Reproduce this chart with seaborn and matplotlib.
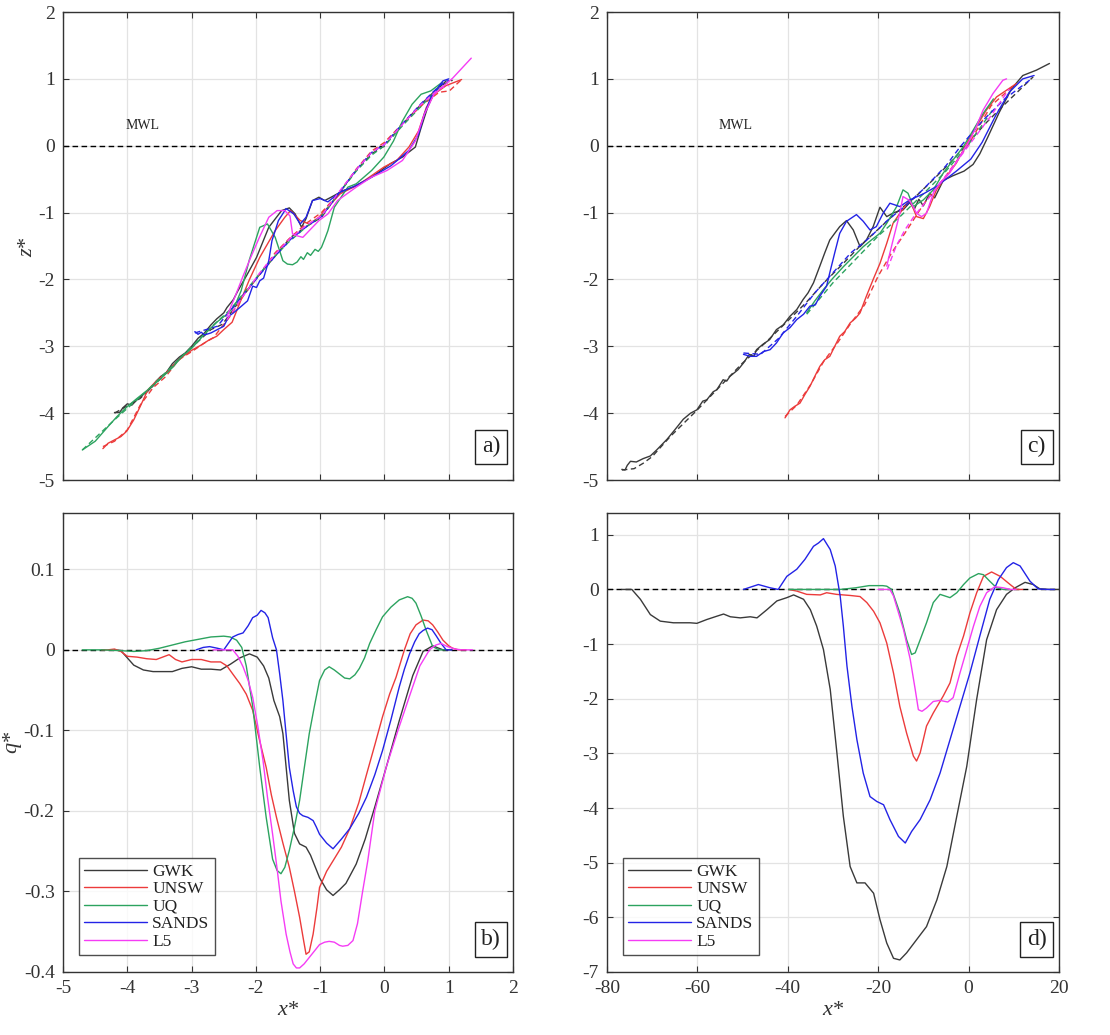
import numpy as np
import pandas as pd
import matplotlib
matplotlib.use("Agg")
import matplotlib.pyplot as plt
from matplotlib.lines import Line2D
import seaborn as sns

# ---------------------------------------------------------------- data
sources = ["GWK", "UNSW", "UQ", "SANDS", "L5"]
palette = {"GWK": "#3a3a3a", "UNSW": "#ec3b3b", "UQ": "#2ca35f",
           "SANDS": "#2323e6", "L5": "#f53cf5"}

# ---- panel a: profiles z*(x*), final (solid) and initial (dashed)
a_gwk_x = [-4.2, -4.12, -4.07, -4.0, -3.93, -3.85, -3.75, -3.65, -3.55, -3.48, -3.4, -3.3, -3.19, -3.1,
           -3.0, -2.9, -2.8, -2.7, -2.61, -2.5, -2.45, -2.35, -2.28, -2.15, -1.99, -1.8, -1.6, -1.48,
           -1.39, -1.29, -1.22, -1.12, -1.02, -0.93, -0.83, -0.64, -0.49, -0.2, 0.09, 0.28, 0.48,
           0.57, 0.67, 0.77, 0.96]
a_gwk_z = [-3.99, -3.99, -3.92, -3.86, -3.88, -3.8, -3.72, -3.64, -3.52, -3.45, -3.4, -3.26, -3.16, -3.1,
           -3.0, -2.88, -2.8, -2.68, -2.59, -2.5, -2.42, -2.3, -2.17, -1.95, -1.67, -1.22, -0.97, -0.93,
           -1.02, -1.22, -1.09, -0.82, -0.77, -0.82, -0.77, -0.67, -0.62, -0.47, -0.27, -0.17, -0.02,
           0.27, 0.57, 0.79, 0.97]
a_gwk0_x = [-4.2, -3.8, -3.5, -3.2, -3.0, -2.7, -2.52, -2.2, -1.94, -1.7, -1.46, -1.2, -0.98, -0.7,
            -0.44, -0.2, 0.0, 0.28, 0.57, 0.86, 1.06]
a_gwk0_z = [-4.0, -3.78, -3.5, -3.2, -3.02, -2.75, -2.67, -2.25, -1.92, -1.65, -1.37, -1.2, -1.07, -0.7,
            -0.37, -0.12, 0.0, 0.32, 0.62, 0.89, 0.98]

a_unsw_x = [-4.38, -4.3, -4.2, -4.1, -4.01, -3.9, -3.8, -3.68, -3.55, -3.4, -3.25, -3.12, -3.0, -2.85,
            -2.72, -2.61, -2.5, -2.37, -2.25, -2.1, -1.94, -1.7, -1.55, -1.46, -1.31, -1.17, -1.02,
            -0.88, -0.69, -0.4, -0.01, 0.19, 0.38, 0.53, 0.65, 0.77, 0.96, 1.2]
a_unsw_z = [-4.53, -4.45, -4.4, -4.35, -4.27, -4.1, -3.9, -3.65, -3.52, -3.4, -3.25, -3.14, -3.06, -2.98,
            -2.9, -2.85, -2.75, -2.64, -2.35, -2.0, -1.67, -1.27, -1.07, -0.97, -1.12, -1.17, -1.07,
            -0.92, -0.72, -0.58, -0.32, -0.22, -0.02, 0.22, 0.57, 0.77, 0.9, 0.99]
a_unsw0_x = [-4.38, -4.2, -4.0, -3.8, -3.6, -3.4, -3.2, -3.0, -2.8, -2.66, -2.4, -2.18, -1.94, -1.7,
             -1.46, -1.2, -0.98, -0.7, -0.44, -0.2, 0.0, 0.3, 0.6, 0.85, 1.01, 1.2]
a_unsw0_z = [-4.5, -4.42, -4.25, -3.88, -3.62, -3.45, -3.2, -3.08, -2.95, -2.87, -2.55, -2.22, -1.92, -1.6,
             -1.37, -1.15, -1.0, -0.7, -0.35, -0.08, 0.05, 0.35, 0.62, 0.8, 0.82, 0.99]

a_uq_x = [-4.7, -4.5, -4.3, -4.16, -4.0, -3.85, -3.68, -3.5, -3.3, -3.15, -3.0, -2.8, -2.61, -2.45,
          -2.33, -2.23, -2.1, -1.94, -1.82, -1.7, -1.58, -1.51, -1.43, -1.36, -1.3, -1.26, -1.2, -1.15,
          -1.08, -1.03, -0.98, -0.93, -0.88, -0.78, -0.57, -0.44, -0.2, -0.01, 0.14, 0.28, 0.43, 0.57,
          0.72, 0.9]
a_uq_z = [-4.55, -4.42, -4.2, -4.05, -3.9, -3.78, -3.65, -3.5, -3.32, -3.15, -3.03, -2.82, -2.64, -2.52,
          -2.4, -2.17, -1.7, -1.22, -1.17, -1.37, -1.72, -1.77, -1.78, -1.74, -1.66, -1.7, -1.6, -1.64,
          -1.55, -1.58, -1.52, -1.4, -1.27, -0.92, -0.62, -0.57, -0.37, -0.17, 0.07, 0.37, 0.62, 0.77,
          0.82, 0.95]
a_uq0_x = [-4.7, -4.2, -3.7, -3.2, -2.7, -2.4, -2.1, -1.8, -1.5, -1.2, -0.98, -0.7, -0.44, -0.2, 0.0,
           0.3, 0.6, 0.9]
a_uq0_z = [-4.55, -4.1, -3.67, -3.2, -2.72, -2.45, -2.1, -1.75, -1.45, -1.2, -1.05, -0.7, -0.38, -0.14,
           0.0, 0.32, 0.62, 0.92]

a_sands_x = [-2.95, -2.9, -2.85, -2.8, -2.7, -2.6, -2.5, -2.42, -2.35, -2.25, -2.13, -2.05, -1.99, -1.94,
             -1.88, -1.8, -1.75, -1.65, -1.53, -1.41, -1.31, -1.22, -1.12, -1.0, -0.88, -0.7, -0.45,
             -0.2, 0.1, 0.38, 0.53, 0.62, 0.72, 0.91, 1.0]
a_sands_z = [-2.78, -2.82, -2.79, -2.83, -2.8, -2.75, -2.7, -2.55, -2.5, -2.42, -2.32, -2.1, -2.12, -2.02,
             -1.98, -1.72, -1.42, -1.12, -0.94, -1.02, -1.17, -1.07, -0.82, -0.79, -0.84, -0.7, -0.6,
             -0.47, -0.3, -0.07, 0.17, 0.47, 0.72, 0.97, 1.0]
a_sands0_x = [-2.95, -2.6, -2.3, -2.0, -1.7, -1.46, -1.2, -0.98, -0.7, -0.44, -0.2, 0.0, 0.28, 0.57,
              0.86, 1.0]
a_sands0_z = [-2.8, -2.7, -2.35, -2.0, -1.65, -1.4, -1.2, -1.06, -0.7, -0.36, -0.1, 0.02, 0.33, 0.63,
              0.9, 0.98]

a_l5_x = [-2.45, -2.33, -2.2, -2.08, -1.95, -1.8, -1.67, -1.55, -1.47, -1.43, -1.35, -1.27, -1.17, -1.02,
          -0.88, -0.73, -0.44, -0.2, 0.04, 0.28, 0.48, 0.62, 0.77, 1.06, 1.35]
a_l5_z = [-2.55, -2.27, -1.95, -1.67, -1.38, -1.07, -0.97, -0.97, -1.05, -1.32, -1.35, -1.37, -1.27, -1.12,
          -1.02, -0.82, -0.62, -0.47, -0.37, -0.22, 0.07, 0.47, 0.77, 1.01, 1.31]
a_l50_x = [-2.45, -2.2, -1.94, -1.7, -1.46, -1.2, -0.98, -0.7, -0.44, -0.2, 0.0, 0.28, 0.57, 0.86, 1.0]
a_l50_z = [-2.6, -2.25, -1.9, -1.62, -1.38, -1.18, -1.05, -0.68, -0.36, -0.1, 0.02, 0.32, 0.62, 0.86, 0.9]

# ---- panel b: q*(x*)
b_gwk_x = [-4.2, -4.1, -4.0, -3.9, -3.75, -3.6, -3.45, -3.3, -3.15, -3.0, -2.85, -2.7, -2.55, -2.4,
           -2.25, -2.1, -1.98, -1.88, -1.8, -1.72, -1.63, -1.58, -1.48, -1.4, -1.32, -1.22, -1.15,
           -1.01, -0.9, -0.8, -0.7, -0.6, -0.5, -0.44, -0.3, -0.15, 0.03, 0.23, 0.44, 0.6, 0.75, 0.91,
           1.05]
b_gwk_q = [0.0, -0.001, -0.01, -0.019, -0.025, -0.027, -0.027, -0.027, -0.023, -0.021, -0.024, -0.024,
           -0.025, -0.018, -0.01, -0.005, -0.009, -0.02, -0.035, -0.063, -0.083, -0.104, -0.187, -0.228,
           -0.241, -0.245, -0.255, -0.283, -0.298, -0.305, -0.298, -0.29, -0.275, -0.266, -0.235, -0.195,
           -0.145, -0.088, -0.032, -0.002, 0.005, 0.0, 0.0]

b_unsw_x = [-4.4, -4.3, -4.2, -4.1, -4.0, -3.85, -3.7, -3.55, -3.45, -3.35, -3.25, -3.15, -3.0, -2.85,
            -2.7, -2.55, -2.45, -2.36, -2.25, -2.15, -2.05, -1.95, -1.84, -1.76, -1.68, -1.58, -1.48,
            -1.4, -1.32, -1.26, -1.22, -1.17, -1.11, -1.05, -1.01, -0.9, -0.8, -0.67, -0.54, -0.4, -0.28,
            -0.15, -0.03, 0.08, 0.18, 0.31, 0.4, 0.49, 0.6, 0.68, 0.75, 0.83, 0.91, 1.0, 1.06, 1.15, 1.27]
b_unsw_q = [0.0, 0.0, 0.001, -0.002, -0.008, -0.009, -0.011, -0.012, -0.009, -0.006, -0.012, -0.015,
            -0.012, -0.012, -0.015, -0.015, -0.02, -0.03, -0.042, -0.055, -0.075, -0.11, -0.146, -0.18,
            -0.208, -0.24, -0.27, -0.3, -0.332, -0.36, -0.378, -0.375, -0.353, -0.32, -0.295, -0.275,
            -0.262, -0.245, -0.222, -0.19, -0.155, -0.118, -0.083, -0.055, -0.034, 0.0, 0.02, 0.031,
            0.037, 0.036, 0.031, 0.022, 0.012, 0.005, 0.002, 0.0, 0.0]

b_uq_x = [-4.7, -4.4, -4.1, -3.9, -3.7, -3.5, -3.3, -3.1, -2.9, -2.7, -2.5, -2.4, -2.3, -2.22, -2.15,
          -2.05, -1.94, -1.84, -1.74, -1.67, -1.61, -1.55, -1.48, -1.4, -1.32, -1.25, -1.17, -1.09,
          -1.01, -0.93, -0.86, -0.78, -0.7, -0.62, -0.54, -0.46, -0.39, -0.31, -0.23, -0.13, -0.03,
          0.1, 0.23, 0.36, 0.43, 0.49, 0.57, 0.65, 0.75, 0.85, 0.95]
b_uq_q = [0.0, 0.0, -0.001, -0.002, -0.001, 0.002, 0.006, 0.01, 0.013, 0.016, 0.017, 0.016, 0.012,
          0.003, -0.02, -0.07, -0.146, -0.208, -0.26, -0.274, -0.278, -0.27, -0.249, -0.22, -0.187,
          -0.148, -0.104, -0.07, -0.038, -0.025, -0.021, -0.025, -0.03, -0.035, -0.036, -0.031, -0.023,
          -0.01, 0.008, 0.025, 0.041, 0.053, 0.062, 0.066, 0.064, 0.058, 0.042, 0.024, 0.004, 0.0, 0.0]

b_sands_x = [-2.93, -2.82, -2.72, -2.6, -2.5, -2.43, -2.36, -2.28, -2.2, -2.12, -2.05, -1.98, -1.92,
             -1.86, -1.81, -1.74, -1.68, -1.63, -1.58, -1.53, -1.48, -1.42, -1.37, -1.32, -1.27, -1.19,
             -1.11, -1.06, -1.01, -0.9, -0.8, -0.67, -0.54, -0.4, -0.28, -0.15, -0.03, 0.1, 0.23, 0.31,
             0.39, 0.47, 0.54, 0.6, 0.67, 0.74, 0.8, 0.88, 0.96, 1.05]
b_sands_q = [0.0, 0.003, 0.004, 0.002, 0.0, 0.008, 0.016, 0.019, 0.021, 0.03, 0.04, 0.043, 0.049, 0.046,
             0.04, 0.015, 0.0, -0.03, -0.063, -0.105, -0.146, -0.175, -0.195, -0.203, -0.206, -0.208,
             -0.212, -0.22, -0.229, -0.24, -0.247, -0.235, -0.222, -0.203, -0.183, -0.155, -0.125,
             -0.087, -0.046, -0.024, -0.005, 0.01, 0.02, 0.024, 0.027, 0.025, 0.018, 0.008, 0.0, 0.0]

b_l5_x = [-2.67, -2.5, -2.36, -2.28, -2.2, -2.12, -2.05, -1.97, -1.89, -1.82, -1.74, -1.67, -1.61, -1.53,
          -1.47, -1.42, -1.37, -1.32, -1.25, -1.17, -1.09, -1.01, -0.93, -0.86, -0.78, -0.7, -0.65,
          -0.57, -0.49, -0.42, -0.34, -0.26, -0.15, 0.03, 0.21, 0.4, 0.55, 0.7, 0.8, 0.88, 0.98, 1.1,
          1.2, 1.37]
b_l5_q = [0.0, 0.0, 0.0, -0.008, -0.021, -0.038, -0.059, -0.095, -0.137, -0.183, -0.229, -0.272, -0.312,
          -0.353, -0.375, -0.39, -0.395, -0.395, -0.39, -0.382, -0.374, -0.366, -0.363, -0.362, -0.363,
          -0.367, -0.368, -0.367, -0.361, -0.34, -0.3, -0.262, -0.2, -0.145, -0.1, -0.055, -0.02, 0.0,
          0.006, 0.008, 0.004, 0.001, 0.0, 0.0]

# ---- panel c: profiles z*(x*)
c_gwk_x = [-76.7, -76.0, -75.5, -74.8, -73.5, -72.0, -70.4, -69.0, -66.7, -65.0, -63.1, -61.5, -60.1,
           -58.8, -57.9, -56.5, -55.7, -54.3, -53.5, -52.8, -51.0, -49.8, -48.5, -47.5, -46.9, -45.5,
           -44.0, -42.5, -41.0, -39.5, -38.0, -36.6, -35.5, -34.3, -32.9, -31.8, -30.7, -29.5, -28.5,
           -27.0, -25.5, -24.0, -22.6, -21.1, -19.6, -18.1, -16.5, -14.5, -13.0, -12.0, -11.0, -10.0,
           -8.6, -7.5, -5.6, -3.5, -1.0, 1.0, 2.5, 4.2, 6.8, 9.5, 12.0, 15.0, 17.9]
c_gwk_z = [-4.84, -4.85, -4.78, -4.72, -4.73, -4.68, -4.64, -4.55, -4.39, -4.25, -4.09, -4.0, -3.95,
           -3.82, -3.8, -3.68, -3.65, -3.5, -3.52, -3.45, -3.35, -3.25, -3.12, -3.15, -3.05, -2.97,
           -2.9, -2.75, -2.68, -2.55, -2.45, -2.3, -2.2, -2.05, -1.8, -1.6, -1.41, -1.3, -1.21,
           -1.12, -1.26, -1.51, -1.41, -1.21, -0.92, -1.06, -1.0, -0.96, -0.85, -0.95, -0.8, -0.9,
           -0.71, -0.78, -0.52, -0.45, -0.38, -0.28, -0.12, 0.12, 0.5, 0.85, 1.05, 1.13, 1.23]
c_gwk0_x = [-76.7, -74.0, -72.0, -70.0, -66.0, -60.0, -55.0, -50.0, -45.0, -40.0, -36.0, -32.0, -28.0,
            -24.0, -20.0, -16.0, -12.0, -8.0, -4.0, 0.0, 4.0, 8.0, 12.0, 14.3]
c_gwk0_z = [-4.85, -4.83, -4.75, -4.65, -4.35, -3.95, -3.6, -3.25, -2.95, -2.62, -2.35, -2.05, -1.78,
            -1.5, -1.25, -1.0, -0.78, -0.52, -0.25, 0.05, 0.35, 0.62, 0.88, 1.03]

c_unsw_x = [-40.6, -39.5, -38.5, -37.3, -36.2, -35.1, -33.8, -32.9, -31.8, -30.7, -29.6, -28.5, -27.4,
            -26.2, -25.0, -24.0, -22.6, -21.1, -19.6, -18.1, -16.7, -15.2, -13.0, -11.5, -10.0, -8.6,
            -7.1, -4.9, -2.7, -0.5, 1.7, 3.9, 6.2, 8.4, 10.6]
c_unsw_z = [-4.07, -3.95, -3.9, -3.85, -3.72, -3.6, -3.42, -3.3, -3.2, -3.15, -3.0, -2.85, -2.78,
            -2.65, -2.58, -2.5, -2.25, -2.0, -1.76, -1.46, -1.16, -1.01, -0.81, -1.06, -1.09, -0.91,
            -0.66, -0.46, -0.26, 0.02, 0.28, 0.53, 0.73, 0.83, 0.93]
c_unsw0_x = [-40.6, -38.0, -35.0, -32.0, -29.0, -26.0, -23.0, -20.0, -17.0, -14.0, -10.0, -5.0, 0.0,
             5.0, 10.0]
c_unsw0_z = [-4.05, -3.88, -3.58, -3.22, -2.95, -2.65, -2.38, -1.95, -1.6, -1.3, -0.88, -0.45, 0.02,
             0.6, 0.9]

c_uq_x = [-35.8, -34.0, -32.1, -30.0, -27.7, -25.5, -23.3, -21.5, -19.6, -18.1, -15.9, -14.5, -13.4,
          -12.2, -10.0, -7.8, -5.6, -3.4, -1.2, 1.0, 3.2, 5.5]
c_uq_z = [-2.5, -2.32, -2.15, -1.98, -1.81, -1.66, -1.51, -1.41, -1.31, -1.16, -0.91, -0.66, -0.71,
          -0.91, -0.81, -0.66, -0.41, -0.21, -0.02, 0.23, 0.48, 0.7]
c_uq0_x = [-35.8, -30.0, -25.0, -20.0, -15.0, -10.0, -5.0, 0.0, 5.5]
c_uq0_z = [-2.52, -2.05, -1.7, -1.35, -1.05, -0.72, -0.38, 0.02, 0.55]

c_sands_x = [-49.8, -48.3, -46.9, -45.4, -43.9, -42.5, -41.0, -39.5, -38.0, -36.5, -35.1, -33.9, -32.9,
             -31.4, -30.7, -29.6, -28.5, -27.0, -24.8, -23.3, -21.8, -20.4, -18.9, -17.4, -15.2, -13.0,
             -10.0, -7.1, -2.7, 0.5, 3.0, 6.0, 9.0, 12.0, 14.5]
c_sands_z = [-3.12, -3.15, -3.15, -3.08, -3.05, -2.95, -2.8, -2.72, -2.6, -2.52, -2.4, -2.38, -2.25,
             -2.1, -1.9, -1.6, -1.31, -1.13, -1.03, -1.13, -1.26, -1.21, -1.01, -0.86, -0.91, -0.81,
             -0.72, -0.61, -0.38, -0.2, 0.05, 0.45, 0.8, 1.0, 1.05]
c_sands0_x = [-49.8, -46.0, -42.0, -38.0, -34.0, -30.0, -26.0, -22.0, -18.0, -14.0, -10.0, -5.0, -1.9,
              3.2, 8.0, 13.9]
c_sands0_z = [-3.1, -3.12, -2.88, -2.55, -2.2, -1.9, -1.6, -1.38, -1.12, -0.9, -0.65, -0.3, -0.02, 0.38,
              0.7, 1.0]

c_l5_x = [-18.1, -16.7, -15.2, -14.5, -13.0, -11.5, -10.4, -9.3, -7.8, -6.4, -4.2, -1.9, 0.3, 1.7, 3.2,
          5.4, 7.6, 8.4]
c_l5_z = [-1.8, -1.41, -1.01, -0.76, -0.82, -1.01, -1.06, -1.01, -0.71, -0.56, -0.41, -0.16, 0.09, 0.28,
          0.53, 0.78, 0.98, 1.0]
c_l50_x = [-18.0, -16.0, -14.0, -12.0, -9.0, -5.0, 0.0, 5.0, 9.0]
c_l50_z = [-1.85, -1.5, -1.25, -1.05, -0.8, -0.45, 0.0, 0.45, 0.85]

# ---- panel d: q*(x*)
d_gwk_x = [-76.7, -74.5, -72.6, -70.4, -68.2, -65.3, -61.6, -60.1, -57.9, -55.7, -54.2, -52.7, -50.5,
           -48.3, -46.8, -44.6, -42.4, -40.2, -38.7, -36.5, -35.0, -33.6, -32.1, -30.6, -29.2, -27.7,
           -26.2, -24.7, -22.9, -21.0, -19.6, -18.1, -16.6, -15.2, -13.7, -11.5, -9.3, -7.0, -4.8, -2.6,
           -0.4, 1.8, 4.0, 6.2, 8.4, 10.3, 12.5, 14.3, 15.8, 18.0, 20.0]
d_gwk_q = [0.0, 0.0, -0.18, -0.46, -0.58, -0.61, -0.61, -0.62, -0.55, -0.49, -0.45, -0.5, -0.52, -0.5,
           -0.52, -0.37, -0.21, -0.15, -0.1, -0.18, -0.37, -0.67, -1.1, -1.83, -2.93, -4.15, -5.07,
           -5.37, -5.37, -5.56, -6.04, -6.47, -6.75, -6.78, -6.65, -6.41, -6.17, -5.68, -5.07, -4.15,
           -3.24, -2.01, -0.92, -0.37, -0.09, 0.03, 0.13, 0.09, 0.01, 0.0, 0.0]

d_unsw_x = [-39.8, -38.0, -35.8, -32.8, -31.4, -29.2, -26.2, -24.0, -22.5, -21.0, -19.6, -18.1, -16.6,
            -15.2, -13.7, -12.2, -11.5, -10.7, -9.3, -7.8, -5.6, -4.1, -2.6, -1.1, 0.3, 1.8, 3.3, 5.1,
            7.0, 9.2, 10.6, 12.0]
d_unsw_q = [0.0, -0.03, -0.09, -0.1, -0.06, -0.09, -0.11, -0.13, -0.24, -0.4, -0.61, -0.98, -1.53,
            -2.14, -2.63, -3.05, -3.14, -2.99, -2.5, -2.26, -1.95, -1.71, -1.22, -0.85, -0.43, -0.06,
            0.24, 0.32, 0.24, 0.09, 0.0, 0.0]

d_uq_x = [-39.8, -34.0, -28.4, -25.0, -22.0, -19.0, -18.1, -17.0, -15.2, -13.7, -12.6, -11.8, -10.7,
          -9.3, -7.8, -6.3, -5.2, -4.1, -2.6, -1.1, 0.3, 2.2, 3.3, 4.7, 6.2, 7.7, 9.0]
d_uq_q = [0.0, 0.0, 0.0, 0.03, 0.07, 0.07, 0.06, 0.0, -0.43, -0.92, -1.19, -1.16, -0.92, -0.61, -0.24,
          -0.09, -0.12, -0.15, -0.06, 0.09, 0.21, 0.29, 0.27, 0.15, 0.03, 0.0, 0.0]

d_sands_x = [-49.8, -46.5, -43.9, -42.1, -40.2, -38.0, -36.2, -34.3, -33.2, -32.1, -30.6, -29.5, -28.4,
             -27.7, -26.9, -25.8, -24.7, -23.3, -21.8, -20.3, -18.8, -17.4, -15.5, -14.0, -12.6, -10.7,
             -8.5, -6.3, -4.1, -1.9, 0.3, 2.5, 4.7, 6.6, 8.4, 9.9, 11.4, 13.6, 15.4, 17.3, 19.0]
d_sands_q = [0.0, 0.09, 0.03, 0.0, 0.24, 0.37, 0.55, 0.79, 0.85, 0.93, 0.73, 0.43, -0.12, -0.67, -1.4,
             -2.14, -2.75, -3.36, -3.79, -3.88, -3.94, -4.21, -4.52, -4.64, -4.43, -4.21, -3.85, -3.36,
             -2.75, -2.14, -1.53, -0.85, -0.18, 0.18, 0.4, 0.49, 0.43, 0.15, 0.01, 0.0, 0.0]

d_l5_x = [-20.0, -17.4, -16.6, -14.4, -12.9, -11.8, -11.1, -10.3, -9.3, -7.8, -6.3, -4.6, -3.4, -1.9,
          -0.4, 1.1, 2.5, 4.0, 5.8, 7.7, 9.2, 10.5]
d_l5_q = [0.0, 0.0, -0.12, -0.73, -1.28, -1.83, -2.2, -2.23, -2.17, -2.05, -2.03, -2.06, -1.98, -1.53,
          -1.1, -0.67, -0.31, -0.06, 0.05, 0.03, 0.0, 0.0]

mwl_level = 0.0
mwl_a = (-5.0, 0.0)
mwl_c = (-80.0, -1.2)


def frame(series):
    parts = [pd.DataFrame({"x": xs, "y": ys, "src": src, "kind": kind})
             for src, kind, xs, ys in series]
    return pd.concat(parts, ignore_index=True)


prof_a = frame([
    ("GWK", "final", a_gwk_x, a_gwk_z), ("GWK", "initial", a_gwk0_x, a_gwk0_z),
    ("UNSW", "final", a_unsw_x, a_unsw_z), ("UNSW", "initial", a_unsw0_x, a_unsw0_z),
    ("UQ", "final", a_uq_x, a_uq_z), ("UQ", "initial", a_uq0_x, a_uq0_z),
    ("SANDS", "final", a_sands_x, a_sands_z), ("SANDS", "initial", a_sands0_x, a_sands0_z),
    ("L5", "final", a_l5_x, a_l5_z), ("L5", "initial", a_l50_x, a_l50_z),
])
prof_c = frame([
    ("GWK", "final", c_gwk_x, c_gwk_z), ("GWK", "initial", c_gwk0_x, c_gwk0_z),
    ("UNSW", "final", c_unsw_x, c_unsw_z), ("UNSW", "initial", c_unsw0_x, c_unsw0_z),
    ("UQ", "final", c_uq_x, c_uq_z), ("UQ", "initial", c_uq0_x, c_uq0_z),
    ("SANDS", "final", c_sands_x, c_sands_z), ("SANDS", "initial", c_sands0_x, c_sands0_z),
    ("L5", "final", c_l5_x, c_l5_z), ("L5", "initial", c_l50_x, c_l50_z),
])
flux_b = frame([
    ("GWK", "q", b_gwk_x, b_gwk_q), ("UNSW", "q", b_unsw_x, b_unsw_q), ("UQ", "q", b_uq_x, b_uq_q),
    ("SANDS", "q", b_sands_x, b_sands_q), ("L5", "q", b_l5_x, b_l5_q),
])
flux_d = frame([
    ("GWK", "q", d_gwk_x, d_gwk_q), ("UNSW", "q", d_unsw_x, d_unsw_q), ("UQ", "q", d_uq_x, d_uq_q),
    ("SANDS", "q", d_sands_x, d_sands_q), ("L5", "q", d_l5_x, d_l5_q),
])

# ---------------------------------------------------------------- style
sns.set_style("ticks")
plt.rcParams["font.family"] = ["Liberation Serif", "DejaVu Serif"]
plt.rcParams["axes.unicode_minus"] = False
plt.rcParams["mathtext.fontset"] = "custom"
plt.rcParams["mathtext.it"] = "Liberation Serif:italic"

fig = plt.figure(figsize=(11.1, 10.35), dpi=100)
ax_a = fig.add_axes([0.0568, 0.5362, 0.4054, 0.4522])
ax_b = fig.add_axes([0.0568, 0.0609, 0.4054, 0.4435])
ax_c = fig.add_axes([0.5468, 0.5362, 0.4072, 0.4522])
ax_d = fig.add_axes([0.5468, 0.0609, 0.4072, 0.4435])

LW = 1.0
TICK_FS = 14
TEXT_COLOR = "#333333"


def panel_tag(ax, tag):
    ax.text(0.951, 0.071, tag, transform=ax.transAxes, fontsize=17, ha="center", va="center",
            color="#222222",
            bbox=dict(boxstyle="square,pad=0.28", fc="white", ec="#222222", lw=1.0), zorder=10)


def profile_panel(ax, data, mwl, xlim, xticks, mwl_text_x, tag):
    sns.lineplot(data=data, x="x", y="y", hue="src", style="kind", hue_order=sources,
                 style_order=["final", "initial"], dashes={"final": "", "initial": (4, 2.5)},
                 palette=palette, estimator=None, sort=False, lw=LW, legend=False, ax=ax)
    ax.hlines(mwl_level, mwl[0], mwl[1], colors="black", linestyles=(0, (4, 2.5)), lw=1.0, zorder=1)
    ax.text(mwl_text_x, 0.3, "MWL", fontsize=10, ha="center", va="center", color="#222222")
    ax.set_xlim(*xlim)
    ax.set_ylim(-5, 2)
    ax.set_xticks(xticks)
    ax.set_xticklabels([])
    ax.set_yticks(range(-5, 3))
    ax.set_xlabel("")
    ax.set_ylabel("")
    panel_tag(ax, tag)


def flux_panel(ax, data, xlim, xticks, ylim, yticks, ytick_labels, tag):
    ax.axhline(0, color="black", ls=(0, (4, 2.5)), lw=1.0, zorder=1)
    sns.lineplot(data=data, x="x", y="y", hue="src", hue_order=sources, palette=palette,
                 estimator=None, sort=False, lw=LW, legend=False, ax=ax)
    ax.set_xlim(*xlim)
    ax.set_ylim(*ylim)
    ax.set_xticks(xticks)
    ax.set_xticklabels([f"{t:g}" for t in xticks])
    ax.set_yticks(yticks)
    ax.set_yticklabels(ytick_labels)
    ax.set_xlabel("$x$*", fontsize=16, labelpad=3, color=TEXT_COLOR)
    ax.set_ylabel("")
    handles = [Line2D([], [], color=palette[s], lw=LW) for s in sources]
    leg = ax.legend(handles, sources, loc="lower left", bbox_to_anchor=(0.036, 0.037),
                    borderaxespad=0, fontsize=12.5, handlelength=3.6, handletextpad=0.3,
                    labelspacing=0.08, borderpad=0.3, fancybox=False, frameon=True)
    for t in leg.get_texts():
        t.set_color("#222222")
    leg.get_frame().set_edgecolor("#222222")
    leg.get_frame().set_linewidth(1.0)
    panel_tag(ax, tag)


profile_panel(ax_a, prof_a, mwl_a, (-5, 2), range(-5, 3), -3.76, "a)")
profile_panel(ax_c, prof_c, mwl_c, (-80, 20), range(-80, 21, 20), -51.6, "c)")
flux_panel(ax_b, flux_b, (-5, 2), list(range(-5, 3)), (-0.4, 0.17),
           [-0.4, -0.3, -0.2, -0.1, 0, 0.1], ["-0.4", "-0.3", "-0.2", "-0.1", "0", "0.1"], "b)")
flux_panel(ax_d, flux_d, (-80, 20), list(range(-80, 21, 20)), (-7, 1.4),
           list(range(-7, 2)), [str(v) for v in range(-7, 2)], "d)")

ax_a.set_ylabel("$z$*", fontsize=16, color=TEXT_COLOR, va="center")
ax_a.yaxis.set_label_coords(-0.078, 0.5)
ax_b.set_ylabel("$q$*", fontsize=16, color=TEXT_COLOR, va="center")
ax_b.yaxis.set_label_coords(-0.112, 0.5)

for ax in (ax_a, ax_b, ax_c, ax_d):
    ax.grid(True, color="#e3e3e3", lw=0.9)
    ax.set_axisbelow(True)
    ax.tick_params(direction="in", length=4, width=0.8, top=True, right=True,
                   labelsize=TICK_FS, colors=TEXT_COLOR, pad=6)
    for sp in ax.spines.values():
        sp.set_color("#333333")
        sp.set_linewidth(1.0)

fig.savefig("out.png", dpi=100)
